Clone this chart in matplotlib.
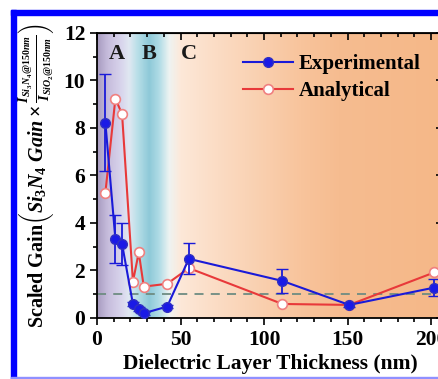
import numpy as np
import matplotlib
matplotlib.use("Agg")
import matplotlib.pyplot as plt
from matplotlib.colors import LinearSegmentedColormap
from matplotlib.patches import Rectangle
from matplotlib.lines import Line2D
from matplotlib.ticker import MultipleLocator

plt.rcParams['font.family'] = 'Liberation Serif'
plt.rcParams['font.weight'] = 'bold'
plt.rcParams['mathtext.fontset'] = 'custom'
plt.rcParams['mathtext.rm'] = 'Liberation Serif:bold'
plt.rcParams['mathtext.it'] = 'Liberation Serif:bold:italic'
plt.rcParams['mathtext.bf'] = 'Liberation Serif:bold'

# data
thick = [5, 11, 15, 21.5, 25, 28, 42, 55, 111, 151, 202]
exp_gain = [8.22, 3.32, 3.11, 0.59, 0.37, 0.20, 0.48, 2.49, 1.56, 0.55, 1.28]
exp_err = [2.05, 1.0, 0.9, 0.08, 0.08, 0.06, 0.08, 0.65, 0.5, 0.1, 0.35]
ana_gain = [5.27, 9.24, 8.58, 1.53, 2.76, 1.32, 1.44, 2.10, 0.59, 0.55, 1.92]
regions = ['A', 'B', 'C']
region_x = [12, 31, 55]

blue = '#1a1ad8'
red = '#e8393a'

fig = plt.figure(figsize=(4.39, 3.79), dpi=100)
ax = fig.add_axes([0.221, 0.161, 0.7875, 0.752])

# background gradient
stops = [0.0, 6, 14, 19, 24, 31, 37, 43, 50, 72, 122, 145, 207]
cols = ['#a89cc0', '#c6bcdc', '#d8d4ec', '#e0e8f2', '#b8dfe8', '#8ec9d8', '#b0dce6',
        '#eef3f2', '#fde8d8', '#fbdcc4', '#f8c49c', '#f6bc90', '#f5b888']
cmap = LinearSegmentedColormap.from_list('bg', list(zip([s / 207 for s in stops], cols)))
grad = np.linspace(0, 1, 512).reshape(1, -1)
ax.imshow(grad, aspect='auto', cmap=cmap, extent=[0, 207, 0, 12], zorder=0)

ax.axhline(1, color='#6e8c82', ls=(0, (5, 4)), lw=1.3, zorder=1)

ax.plot(thick, ana_gain, '-o', color=red, lw=1.5, mfc='white', mec='#f08080',
        ms=7, mew=1.2, zorder=3)
ax.errorbar(thick, exp_gain, yerr=exp_err, fmt='-o', color=blue, lw=1.5,
            mfc='#1a1ae6', mec='#3030c0', ms=7, capsize=4, elinewidth=1.3, zorder=4)

for r, xr in zip(regions, region_x):
    ax.text(xr, 11.1, r, ha='center', va='center', fontsize=16, fontweight='bold',
            color='#1a1a1a')

ax.set_xlim(0, 207)
ax.set_ylim(0, 12)
ax.xaxis.set_major_locator(MultipleLocator(50))
ax.xaxis.set_minor_locator(MultipleLocator(10))
ax.yaxis.set_major_locator(MultipleLocator(2))
ax.yaxis.set_minor_locator(MultipleLocator(1))
ax.tick_params(which='both', direction='out', labelsize=15.5, width=1.2)
ax.tick_params(which='major', length=5)
ax.tick_params(which='minor', length=3)
for lab in ax.get_xticklabels() + ax.get_yticklabels():
    lab.set_fontweight('bold')
for s in ax.spines.values():
    s.set_linewidth(1.3)

top = ax.secondary_xaxis('top')
top.xaxis.set_major_locator(MultipleLocator(50))
top.xaxis.set_minor_locator(MultipleLocator(10))
top.tick_params(which='both', direction='in', labeltop=False, width=1.2)
top.tick_params(which='major', length=5)
top.tick_params(which='minor', length=3)
right = ax.secondary_yaxis('right')
right.yaxis.set_major_locator(MultipleLocator(2))
right.yaxis.set_minor_locator(MultipleLocator(1))
right.tick_params(which='both', direction='in', labelright=False, width=1.2)
right.tick_params(which='major', length=5)
right.tick_params(which='minor', length=3)

ax.set_xlabel('Dielectric Layer Thickness (nm)', fontsize=15.5, fontweight='bold', labelpad=3)
ax.set_ylabel(r'Scaled Gain$\left(\mathit{Si_3N_4\ Gain}\times'
              r'\frac{I_{Si_3N_4@150nm}}{I_{SiO_2@150nm}}\right)$',
              fontsize=14.5, fontweight='bold')
ax.yaxis.set_label_coords(-0.12, 0.5)

handles = [Line2D([], [], color=blue, lw=1.5, marker='o', mfc='#1a1ae6', mec='#3030c0', ms=7),
           Line2D([], [], color=red, lw=1.5, marker='o', mfc='white', mec='#f08080', ms=7,
                  mew=1.2)]
ax.legend(handles, ['Experimental', 'Analytical'], loc='upper left',
          bbox_to_anchor=(0.385, 0.97), frameon=False, fontsize=15, handlelength=2.4,
          borderaxespad=0.2, handletextpad=0.3, labelspacing=0.35)

# blue frame around the figure
fig.patches.append(Rectangle((11 / 439, 1 - 15 / 379), 1, 5 / 379, transform=fig.transFigure,
                             color='#0000ff', zorder=10))
fig.patches.append(Rectangle((11 / 439, 0), 5 / 439, 1 - 10 / 379, transform=fig.transFigure,
                             color='#0000ff', zorder=10))
fig.patches.append(Rectangle((11 / 439, 0), 1, 2 / 379, transform=fig.transFigure,
                             color='#9090ff', zorder=10))

fig.savefig('out.png', dpi=100)
